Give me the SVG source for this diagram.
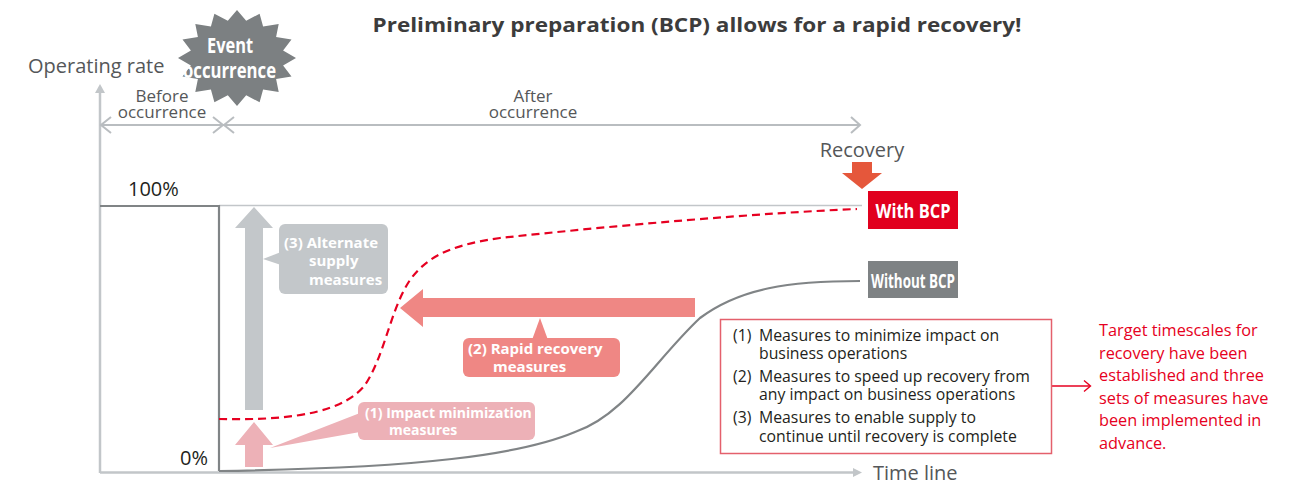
<svg xmlns="http://www.w3.org/2000/svg" width="1296" height="484" viewBox="0 0 1296 484">
<style>
  text { font-family: "Open Sans", "Noto Sans", "Liberation Sans", sans-serif; }
  .lbl { fill: #555759; font-size: 20px; }
  .sm { fill: #555759; font-size: 17px; text-anchor: middle; }
  .dark { fill: #231f20; }
  .wb { fill: #ffffff; font-weight: bold; }
  .list { fill: #231f20; font-size: 15.8px; }
  .red { fill: #e60021; font-size: 16.3px; }
  .axis { stroke: #c2c6c9; stroke-width: 2.5; fill: none; }
  .thin { stroke: #c2c6c9; stroke-width: 1.5; fill: none; }
  .chev { stroke: #b9bdc0; stroke-width: 2; fill: none; }
</style>
<rect width="1296" height="484" fill="#ffffff"/>

<g id="title">
  <text x="697" y="32" text-anchor="middle" font-size="20" font-weight="bold" fill="#3c3c3c" textLength="649" lengthAdjust="spacingAndGlyphs">Preliminary preparation (BCP) allows for a rapid recovery!</text>
</g>

<g id="connectors">
  <line class="axis" x1="100" y1="90" x2="100" y2="473"/>
  <polygon points="100,84 95,93 105,93" fill="#c2c6c9"/>
  <line class="axis" x1="100" y1="472.5" x2="855" y2="472.5"/>
  <polygon points="862,472.5 853,468 853,477" fill="#c2c6c9"/>
  <line class="chev" x1="101" y1="125" x2="860" y2="125"/>
  <polyline class="chev" points="111,117 101,125 111,133"/>
  <polyline class="chev" points="213,117 223,125 213,133"/>
  <polyline class="chev" points="234,117 224,125 234,133"/>
  <polyline class="chev" points="851,117 860,125 851,133"/>
  <line class="thin" x1="219" y1="205.5" x2="862" y2="205.5"/>
  <polyline points="100,206 219,206 219,471" fill="none" stroke="#808486" stroke-width="2.2"/>
  <path d="M219,471 C420,468 520,455 575,432 C625,415 655,360 700,318 C740,288 790,281 860,281" fill="none" stroke="#808486" stroke-width="2.2"/>
  <path d="M219,419 C300,421 345,410 365,385 C385,355 390,310 410,280 C430,252 460,244 500,238 C620,225 760,213 857,209" fill="none" stroke="#e60021" stroke-width="2.2" stroke-dasharray="8 5"/>
  <line x1="1051" y1="386" x2="1090" y2="386" stroke="#e60021" stroke-width="1.4"/>
  <polyline points="1084,380.5 1090.5,386 1084,391.5" fill="none" stroke="#e60021" stroke-width="1.4"/>
</g>

<g id="axis-labels">
  <text class="lbl" x="28" y="73">Operating rate</text>
  <text class="sm" x="162" y="102">Before</text>
  <text class="sm" x="162" y="118">occurrence</text>
  <text class="sm" x="533" y="102">After</text>
  <text class="sm" x="533" y="118">occurrence</text>
  <text class="lbl dark" x="128" y="196" font-size="21">100%</text>
  <text class="lbl dark" x="208" y="465" font-size="21" text-anchor="end">0%</text>
  <text class="lbl" x="873" y="480">Time line</text>
</g>

<g id="event">
  <polygon fill="#7c8082" points="296,58 283.1,65.4 291.5,76.4 276.1,79.1 278.7,91.9 263.1,89.6 259.6,102.3 246.2,95.3 237,106 227.8,95.3 214.4,102.3 210.9,89.6 195.3,91.9 197.9,79.1 182.5,76.4 190.9,65.4 178,58 190.9,50.6 182.5,39.6 197.9,36.9 195.3,24.1 210.9,26.4 214.4,13.7 227.8,20.7 237,10 246.2,20.7 259.6,13.7 263.1,26.4 278.7,24.1 276.1,36.9 291.5,39.6 283.1,50.6"/>
  <text class="wb" x="230" y="53" font-size="22" text-anchor="middle" textLength="46" lengthAdjust="spacingAndGlyphs">Event</text>
  <text class="wb" x="229.5" y="78" font-size="22" text-anchor="middle" textLength="93" lengthAdjust="spacingAndGlyphs">occurrence</text>
</g>

<g id="recovery">
  <text class="lbl" x="862" y="157" text-anchor="middle">Recovery</text>
  <polygon fill="#e5573b" points="852,162 872,162 872,173 882,173 862,189 842,173 852,173"/>
</g>

<g id="with-bcp">
  <rect x="868" y="191" width="90" height="38" fill="#e1001e"/>
  <text class="wb" x="913" y="218" font-size="20" text-anchor="middle" textLength="75" lengthAdjust="spacingAndGlyphs">With BCP</text>
</g>

<g id="without-bcp">
  <rect x="868" y="261" width="90" height="37" fill="#7e8284"/>
  <text class="wb" x="913" y="288" font-size="19" text-anchor="middle" textLength="84" lengthAdjust="spacingAndGlyphs">Without BCP</text>
</g>

<g id="measure-3">
  <polygon fill="#c3c7ca" points="245,410 263,410 263,228 273,228 254,207 235,228 245,228"/>
  <rect x="279" y="224" width="109" height="70" rx="6" fill="#c3c7ca"/>
  <polygon fill="#c3c7ca" points="281,252 263,259 281,265"/>
  <text class="wb" font-size="15" x="284" y="248">(3) Alternate</text>
  <text class="wb" font-size="15" x="309" y="266">supply</text>
  <text class="wb" font-size="15" x="309" y="285">measures</text>
</g>

<g id="measure-1">
  <polygon fill="#edb1b7" points="245,467 263,467 263,445 273,445 254,422 235,445 245,445"/>
  <rect x="358" y="402" width="177" height="38" rx="6" fill="#edb1b7"/>
  <polygon fill="#edb1b7" points="360,413 270,448 360,432"/>
  <text class="wb" font-size="14" x="365" y="418">(1) Impact minimization</text>
  <text class="wb" font-size="14" x="389" y="435">measures</text>
</g>

<g id="measure-2">
  <polygon fill="#ef8784" points="695,298 423,298 423,289 400,308 423,327 423,317 695,317"/>
  <rect x="463" y="338" width="157" height="39" rx="6" fill="#ef8784"/>
  <polygon fill="#ef8784" points="532,340 540,318 548,340"/>
  <text class="wb" font-size="15" x="468" y="354">(2) Rapid recovery</text>
  <text class="wb" font-size="15" x="493" y="372">measures</text>
</g>

<g id="measures-box">
  <rect x="720.5" y="319.5" width="331" height="134" fill="#ffffff" stroke="#e4606c" stroke-width="1.5"/>
  <text class="list" x="733" y="341">(1)</text>
  <text class="list" x="759" y="341">Measures to minimize impact on</text>
  <text class="list" x="759" y="359">business operations</text>
  <text class="list" x="733" y="382">(2)</text>
  <text class="list" x="759" y="382">Measures to speed up recovery from</text>
  <text class="list" x="759" y="400">any impact on business operations</text>
  <text class="list" x="733" y="423">(3)</text>
  <text class="list" x="759" y="423">Measures to enable supply to</text>
  <text class="list" x="759" y="442">continue until recovery is complete</text>
</g>

<g id="note">
  <text class="red" x="1099" y="336">Target timescales for</text>
  <text class="red" x="1099" y="358.5">recovery have been</text>
  <text class="red" x="1099" y="381">established and three</text>
  <text class="red" x="1099" y="403.5">sets of measures have</text>
  <text class="red" x="1099" y="426">been implemented in</text>
  <text class="red" x="1099" y="448.5">advance.</text>
</g>
</svg>
